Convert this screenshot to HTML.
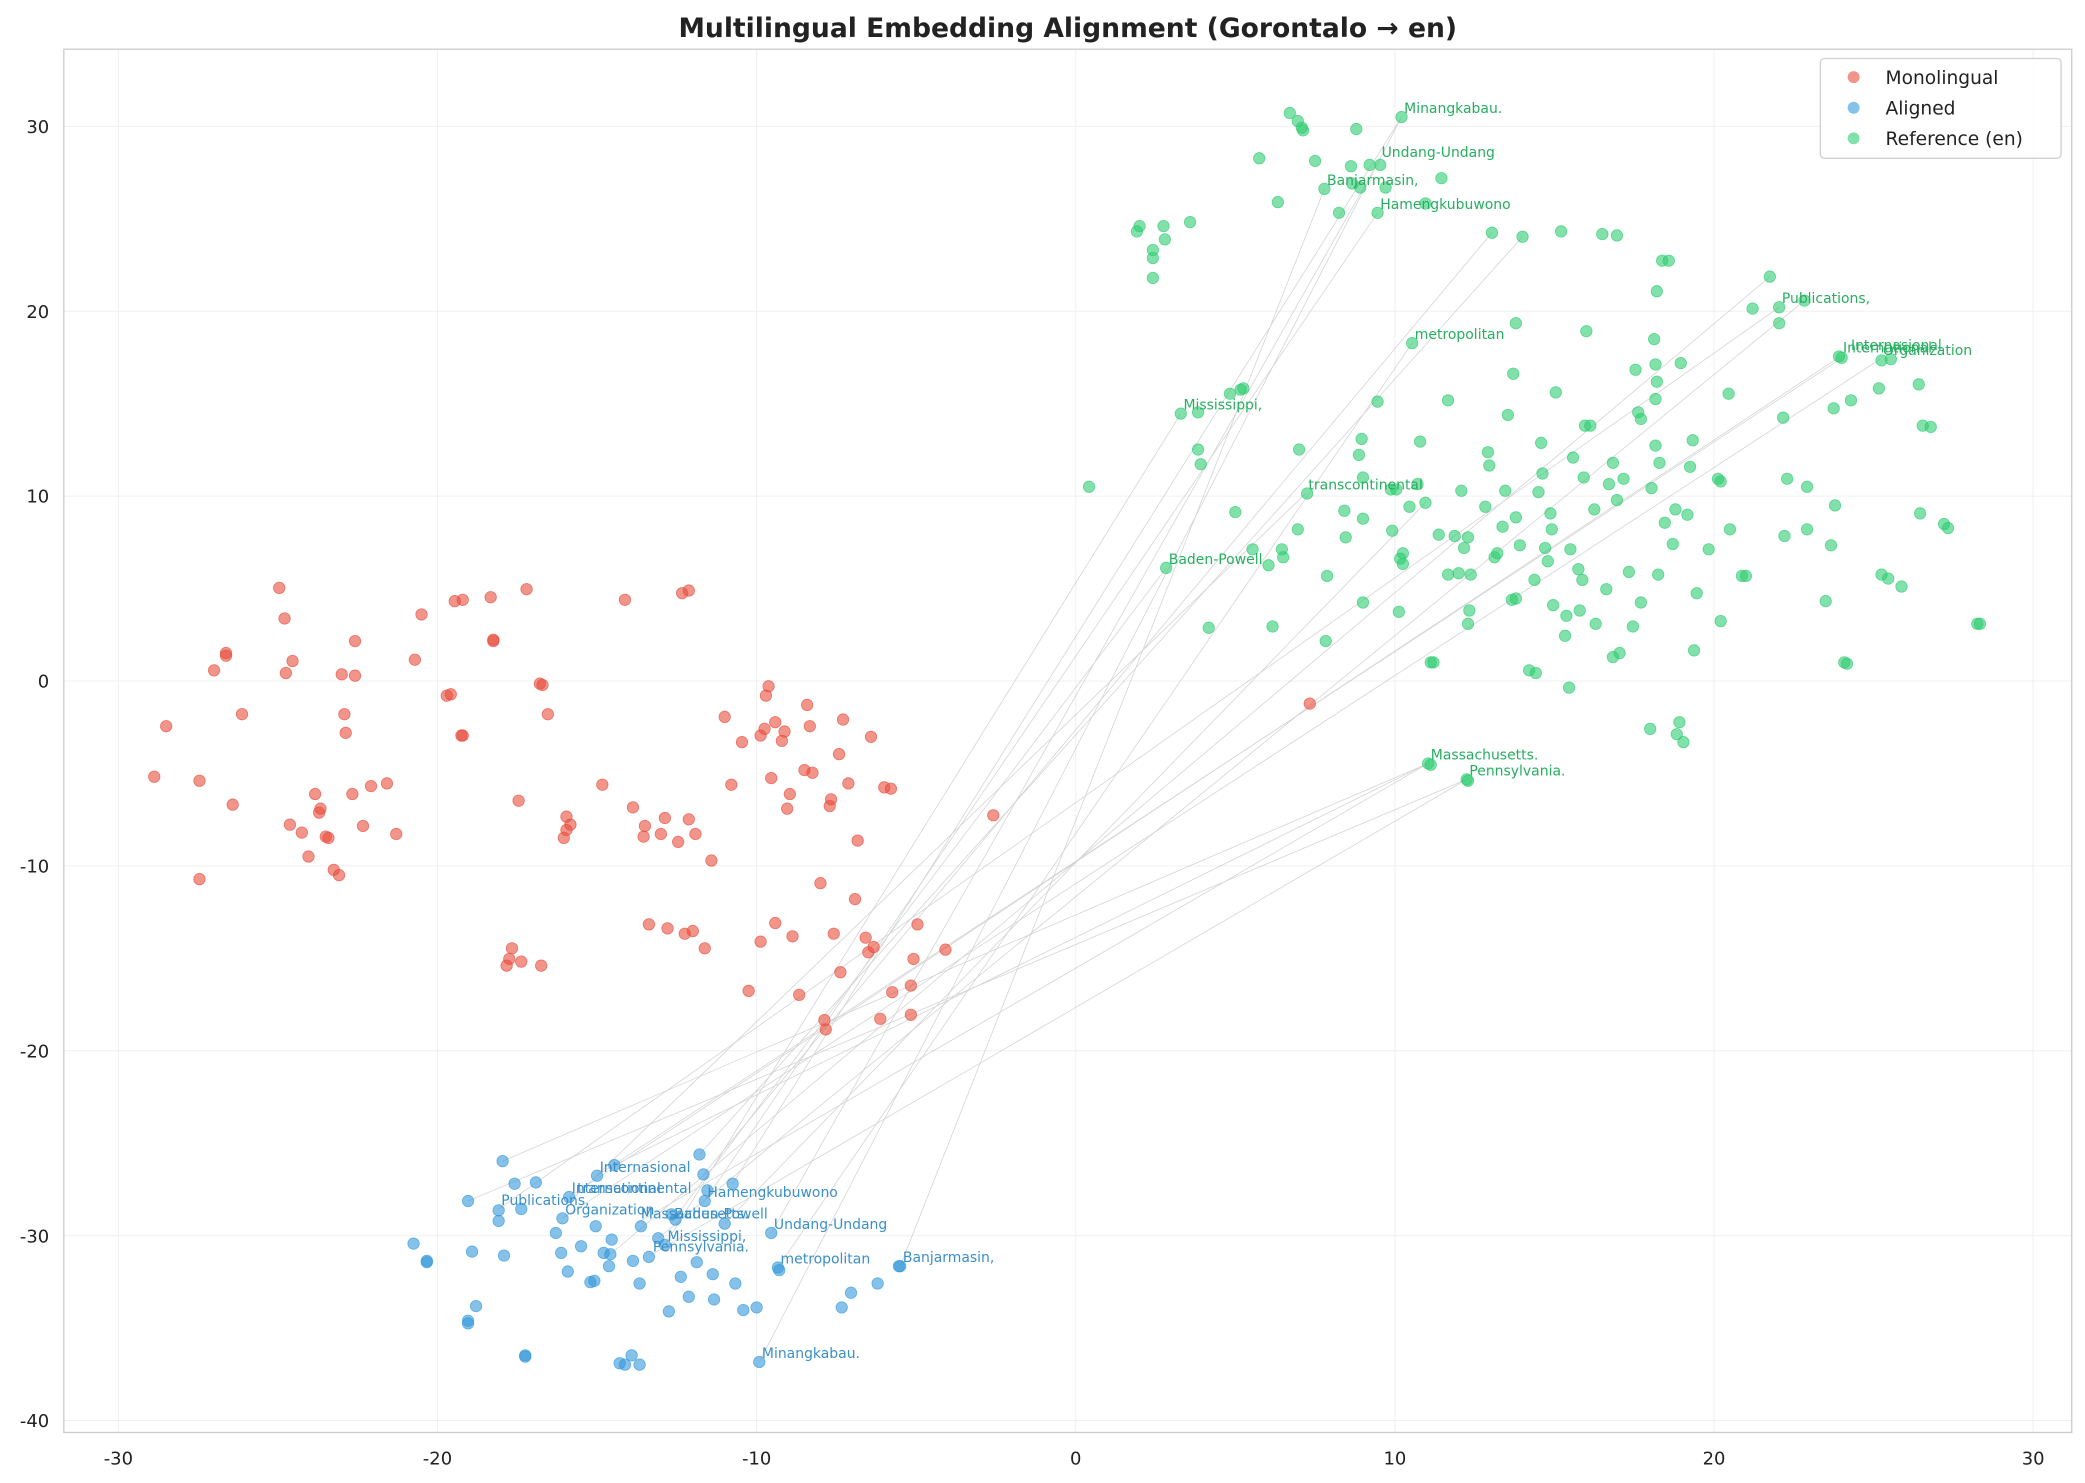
<!DOCTYPE html>
<html><head><meta charset="utf-8"><style>html,body{margin:0;padding:0;background:#fff}svg{display:block}</style></head>
<body>
<svg id="s" width="2085" height="1483" viewBox="0 0 1568 1115" preserveAspectRatio="none" xmlns="http://www.w3.org/2000/svg" font-family="DejaVu Sans, Liberation Sans, sans-serif">
<rect x="0" y="0" width="1568" height="1115" fill="#fff"/>
<g id="grid" stroke="#f0f0f0" stroke-width="0.8"></g>
<rect x="48" y="37" width="1510" height="1040" fill="none" stroke="#cccccc" stroke-width="1"/>
<g id="lines" stroke="#b8b8b8" stroke-width="0.6" opacity="0.6"></g>
<g id="pts"></g>
<g id="lbl" font-size="10.5"></g>
<g id="ticks" font-size="13.5" fill="#222"></g>
<text x="803" y="28" text-anchor="middle" font-size="20" font-weight="bold" fill="#222">Multilingual Embedding Alignment (Gorontalo → en)</text>
<g>
<rect x="1369" y="44" width="181" height="75" rx="3" fill="#fff" fill-opacity="0.85" stroke="#d0d0d0"/>
<circle cx="1394" cy="58" r="4.5" fill="#e74c3c" fill-opacity="0.6"/>
<circle cx="1394" cy="81" r="4.5" fill="#3498db" fill-opacity="0.6"/>
<circle cx="1394" cy="104" r="4.5" fill="#2ecc71" fill-opacity="0.6"/>
<text x="1418" y="63" font-size="14" fill="#222">Monolingual</text>
<text x="1418" y="86" font-size="14" fill="#222">Aligned</text>
<text x="1418" y="109" font-size="14" fill="#222">Reference (en)</text>
</g>
</svg>
<script>
const NS="http://www.w3.org/2000/svg";
function el(t,a,p,txt){const e=document.createElementNS(NS,t);for(const k in a)e.setAttribute(k,a[k]);if(txt)e.textContent=txt;document.getElementById(p).appendChild(e);return e;}
for(let v=-30;v<=30;v+=10){const x=809+24*v;el('line',{x1:x,y1:37,x2:x,y2:1077},'grid');el('text',{x:x,y:1101,'text-anchor':'middle'},'ticks',String(v));}
for(let v=-40;v<=30;v+=10){const y=512-13.9*v;el('line',{x1:48,y1:y,x2:1558,y2:y},'grid');el('text',{x:37,y:y+5,'text-anchor':'end'},'ticks',String(v));}
const R=[[116,584],[125,546],[150,661],[150,587],[161,504],[170,491],[170,493],[175,605],[182,537],[210,442],[214,465],[215,506],[220,497],[218,620],[227,626],[232,644],[237,597],[240,611],[241,608],[245,629],[247,630],[251,654],[255,658],[257,507],[259,537],[260,551],[265,597],[267,508],[267,482],[273,621],[279,591],[298,627],[291,589],[312,496],[317,462],[336,523],[339,522],[342,452],[348,451],[347,553],[348,553],[369,449],[371,481],[371,482],[390,602],[385,713],[383,721],[381,726],[392,723],[396,443],[406,514],[407,726],[408,515],[412,537],[424,630],[426,614],[426,624],[429,620],[453,590],[470,451],[476,607],[484,629],[485,621],[488,695],[497,627],[500,615],[502,698],[510,633],[513,446],[515,702],[518,444],[518,616],[521,700],[523,627],[530,713],[535,647],[545,539],[550,590],[558,558],[563,745],[572,553],[572,708],[575,548],[576,523],[578,516],[580,585],[583,694],[583,543],[588,557],[590,550],[592,608],[594,597],[596,704],[601,748],[605,579],[607,530],[609,546],[611,581],[617,664],[620,767],[621,774],[624,606],[625,601],[627,702],[631,567],[632,731],[634,541],[638,589],[643,676],[645,632],[651,705],[655,554],[653,716],[657,712],[662,766],[665,592],[670,593],[671,746],[685,741],[685,763],[687,721],[690,695],[711,714],[747,613],[985,529]];
const B=[[311,935],[321,949],[321,948],[352,995],[352,993],[352,903],[355,941],[358,982],[375,910],[375,918],[378,873],[379,944],[387,890],[392,909],[395,1019],[395,1020],[403,889],[418,927],[422,942],[423,916],[427,956],[428,900],[437,937],[444,964],[447,963],[448,922],[449,884],[454,942],[458,952],[459,943],[460,932],[462,876],[466,1025],[470,1026],[475,1019],[476,948],[481,965],[481,1026],[482,922],[488,945],[495,931],[500,936],[503,986],[505,913],[508,917],[512,960],[518,975],[524,949],[526,868],[529,883],[530,903],[532,895],[536,958],[537,977],[545,920],[551,890],[553,965],[559,985],[569,983],[571,1024],[580,927],[585,953],[586,955],[633,983],[640,972],[660,965],[676,952],[677,952]];
const G=[[819,366],[855,174],[857,170],[867,194],[867,188],[867,209],[875,170],[876,180],[877,427],[888,311],[895,167],[901,310],[901,338],[903,349],[909,472],[925,296],[929,385],[933,293],[935,292],[942,413],[947,119],[954,425],[957,471],[961,152],[964,413],[965,419],[970,85],[976,91],[979,96],[980,98],[977,338],[976,398],[983,371],[989,121],[996,142],[997,482],[998,433],[1007,160],[1011,384],[1012,404],[1016,125],[1017,138],[1020,97],[1022,342],[1023,141],[1024,330],[1025,359],[1025,453],[1025,390],[1030,124],[1036,160],[1036,302],[1038,124],[1042,141],[1046,368],[1047,399],[1050,368],[1052,460],[1053,420],[1054,88],[1055,416],[1055,424],[1060,381],[1062,258],[1066,364],[1068,332],[1072,153],[1072,378],[1076,498],[1078,498],[1082,402],[1084,134],[1089,301],[1089,432],[1094,403],[1097,431],[1099,369],[1101,412],[1104,404],[1104,469],[1105,459],[1106,432],[1117,381],[1119,340],[1120,350],[1122,175],[1124,419],[1126,416],[1130,396],[1132,369],[1134,312],[1137,451],[1138,281],[1140,450],[1140,243],[1140,389],[1143,410],[1145,178],[1150,504],[1155,506],[1154,436],[1157,370],[1159,333],[1160,356],[1162,412],[1164,422],[1166,386],[1167,398],[1168,455],[1170,295],[1174,174],[1177,478],[1178,463],[1180,517],[1181,413],[1183,344],[1187,428],[1188,459],[1190,436],[1191,359],[1192,320],[1193,249],[1196,320],[1199,383],[1200,469],[1205,176],[1208,443],[1210,364],[1213,494],[1213,348],[1216,376],[1216,177],[1218,491],[1221,360],[1225,430],[1228,471],[1230,278],[1232,310],[1234,315],[1234,453],[1241,548],[1242,367],[1244,255],[1245,300],[1245,274],[1245,335],[1246,287],[1246,219],[1247,432],[1248,348],[1250,196],[1252,393],[1255,196],[1258,409],[1260,383],[1261,552],[1263,543],[1264,273],[1266,558],[1269,387],[1271,351],[1273,331],[1274,489],[1276,446],[1285,413],[1292,360],[1294,362],[1294,467],[1300,296],[1301,398],[1310,433],[1313,433],[1318,232],[1331,208],[1338,231],[1338,243],[1341,314],[1342,403],[1344,360],[1357,226],[1359,398],[1359,366],[1373,452],[1377,410],[1379,307],[1380,380],[1383,268],[1385,269],[1387,498],[1389,499],[1392,301],[1413,292],[1415,271],[1415,432],[1420,435],[1422,270],[1430,441],[1443,289],[1444,386],[1446,320],[1452,321],[1462,394],[1465,397],[1487,469],[1489,469],[1074,574],[1076,575],[1103,586],[1104,587]];
const P=[["Minangkabau.",571,1024,1054,88],["Banjarmasin,",677,952,996,142],["Undang-Undang",580,927,1037,121],["Hamengkubuwono",530,903,1036,160],["metropolitan",585,953,1062,258],["Mississippi,",500,936,888,311],["transcontinental",432,900,982,371],["Baden-Powell",505,919,877,427],["Massachusetts.",480,919,1074,574],["Pennsylvania.",489,944,1103,586],["Publications,",375,909,1338,231],["International",428,900,1384,268],["Internasional",449,884,1390,266],["Organization",423,916,1414,270]];
const extra=[[378,873,1074,574],[352,903,1103,586],[462,876,1074,574],[526,868,1145,178],[529,883,1122,175],[545,920,1072,378],[551,890,1054,88],[459,943,1331,208],[495,931,1357,226]];
P.forEach(p=>el('line',{x1:p[1],y1:p[2],x2:p[3],y2:p[4]},'lines'));
extra.forEach(p=>el('line',{x1:p[0],y1:p[1],x2:p[2],y2:p[3]},'lines'));
const dot=(a,c)=>a.forEach(p=>el('circle',{cx:p[0],cy:p[1],r:4.3,fill:c,'fill-opacity':0.6,stroke:c,'stroke-opacity':0.7,'stroke-width':0.6},'pts'));
dot(R,'#e74c3c');dot(B,'#3498db');dot(G,'#2ecc71');
P.forEach(p=>{el('text',{x:p[1]+2,y:p[2]-3,fill:'#3a8fc9'},'lbl',p[0]);el('text',{x:p[3]+2,y:p[4]-3,fill:'#27ae60'},'lbl',p[0]);});
</script>
</body></html>
